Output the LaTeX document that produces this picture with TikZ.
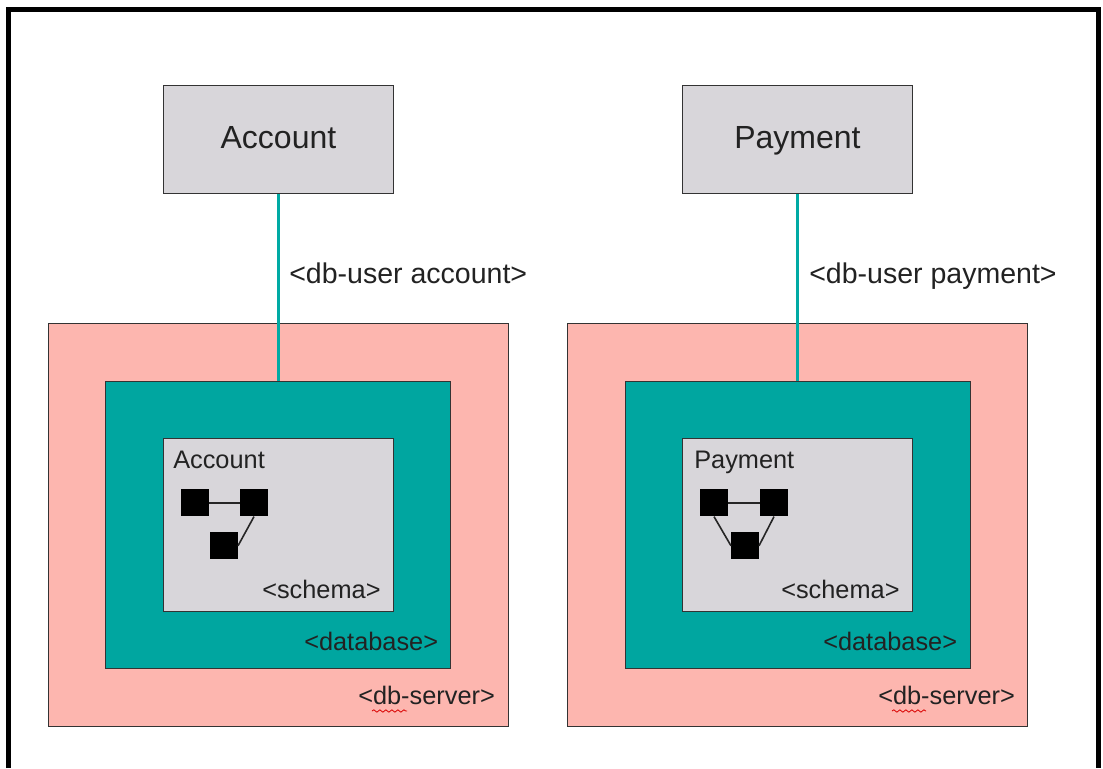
\documentclass[tikz,border=0pt]{standalone}
\usepackage{fontspec}
\setmainfont{Liberation Sans}
\usetikzlibrary{decorations.pathmorphing}

\definecolor{boxgray}{HTML}{D8D6DA}
\definecolor{dbteal}{HTML}{00A6A0}
\definecolor{linkteal}{HTML}{00AAA4}
\definecolor{serverpink}{HTML}{FDB6AF}
\definecolor{textdark}{HTML}{222222}

\tikzset{
    box/.style={draw=black!80, line width=1.4pt, inner sep=0pt, text=textdark, anchor=north west},
    service/.style={box, fill=boxgray, minimum width=172.5pt, minimum height=81pt, text depth=0.33em, font=\fontsize{24}{28}\selectfont},
    schemabox/.style={box, fill=boxgray, minimum width=172.5pt, minimum height=129.75pt},
    dbbox/.style={box, fill=dbteal, minimum width=258.75pt, minimum height=215.25pt},
    serverbox/.style={box, fill=serverpink, minimum width=345pt, minimum height=302.25pt},
    tablebox/.style={fill=black, inner sep=0pt, minimum width=20.6pt, minimum height=20.3pt, anchor=north west},
    tablelink/.style={draw=black!85, line width=1.2pt},
    dblink/.style={draw=linkteal, line width=2.2pt},
    note/.style={inner sep=0pt, anchor=base west, text=textdark, font=\fontsize{19}{23}\selectfont},
    usernote/.style={note, font=\fontsize{21.4}{25}\selectfont},
    squiggle/.style={draw=red!85!black, line width=0.6pt, decorate, decoration={snake, amplitude=0.9pt, segment length=4.5pt}}
}

\begin{document}
\begin{tikzpicture}[x=0.75pt, y=-0.75pt]

    \useasboundingbox (0,0) rectangle (1103,768);

    \draw [line width=3.75pt, line join=miter] (8.5,768) -- (8.5,9.5) -- (1098.5,9.5) -- (1098.5,768);

    \node [serverbox] (serverA) at (47.5,322.5) {};
    \node [serverbox] (serverP) at (566.5,322.5) {};
    \node [dbbox] (dbA) at (104.5,380.5) {};
    \node [dbbox] (dbP) at (624.5,380.5) {};
    \node [schemabox] (schemaA) at (162.5,437.5) {};
    \node [schemabox] (schemaP) at (681.5,437.5) {};

    \node [service] (account) at (162.5,84.5) {Account};
    \node [service] (payment) at (681.5,84.5) {Payment};

    \draw [dblink] (account.south) -- (account.south |- dbA.north);
    \draw [dblink] (payment.south) -- (payment.south |- dbP.north);

    \node [usernote] (userA) at (289,283) {<db-user account>};
    \node [usernote] (userP) at (809,283) {<db-user payment>};

    \node [note] (titleA) at (173,468) {Account};
    \node [note] (titleP) at (694,468) {Payment};

    \node [tablebox] (a1) at (181,489) {};
    \node [tablebox] (a2) at (240,489) {};
    \node [tablebox] (a3) at (210,532) {};
    \draw [tablelink] (a1) -- (a2);
    \draw [tablelink] (a2.south) -- (a3.east);

    \node [tablebox] (p1) at (700,489) {};
    \node [tablebox] (p2) at (760,489) {};
    \node [tablebox] (p3) at (731,532) {};
    \draw [tablelink] (p1) -- (p2);
    \draw [tablelink] (p1.south) -- (p3.west);
    \draw [tablelink] (p2.south) -- (p3.east);

    \node [note] (schemaLabelA) at (262,598) {<schema>};
    \node [note] (schemaLabelP) at (781,598) {<schema>};
    \node [note] (dbLabelA) at (304,650) {<database>};
    \node [note] (dbLabelP) at (823,650) {<database>};
    \node [note] (serverLabelA) at (358,704) {<db-server>};
    \node [note] (serverLabelP) at (878,704) {<db-server>};

    \coordinate (wavyA) at (372,711);
    \coordinate (wavyB) at (407,711);
    \coordinate (wavyC) at (892,711);
    \coordinate (wavyD) at (926,711);
    \draw [squiggle] (wavyA) -- (wavyB);
    \draw [squiggle] (wavyC) -- (wavyD);

\end{tikzpicture}
\end{document}
